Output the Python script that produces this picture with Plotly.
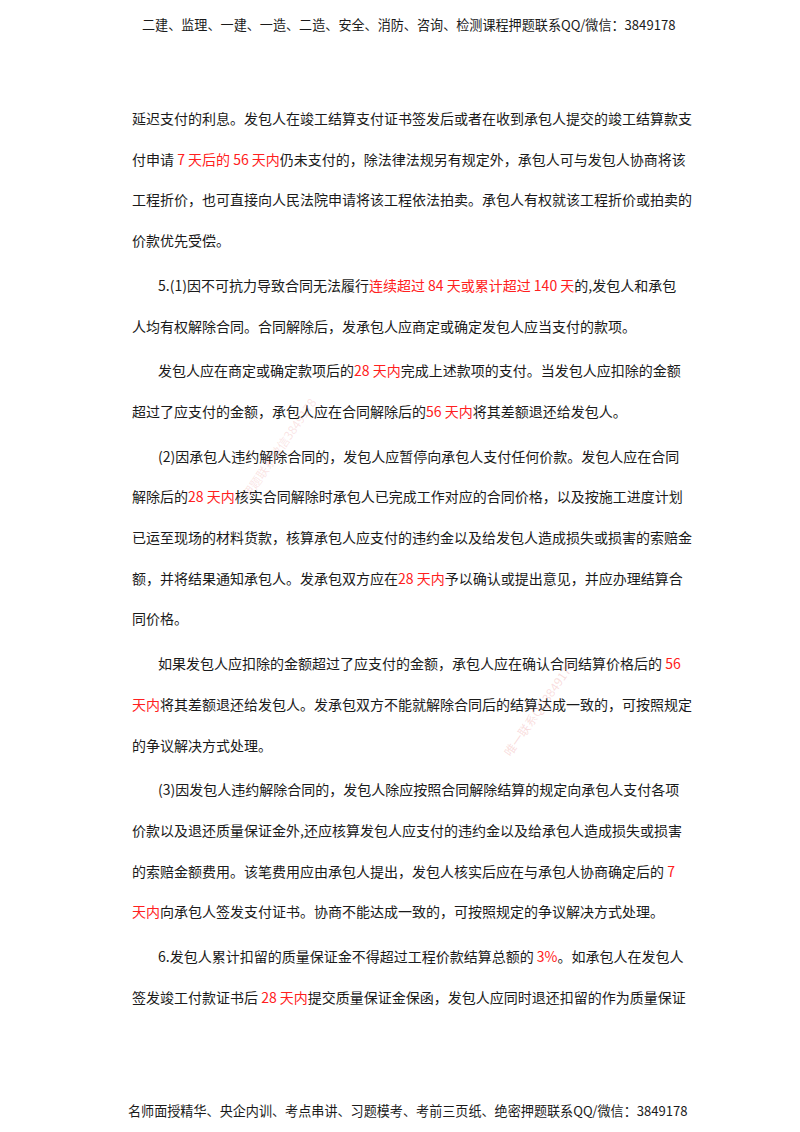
import re
import plotly.graph_objects as go

header_text = "二建、监理、一建、一造、二造、安全、消防、咨询、检测课程押题联系QQ/微信：3849178"
footer_text = "名师面授精华、央企内训、考点串讲、习题模考、考前三页纸、绝密押题联系QQ/微信：3849178"

# paragraphs: (indent?, lines); [..] marks red text
paragraphs = [
    (False, ["延迟支付的利息。发包人在竣工结算支付证书签发后或者在收到承包人提交的竣工结算款支",
             "付申请 [7 天后的 56 天内]仍未支付的，除法律法规另有规定外，承包人可与发包人协商将该",
             "工程折价，也可直接向人民法院申请将该工程依法拍卖。承包人有权就该工程折价或拍卖的",
             "价款优先受偿。"]),
    (True, ["5.(1)因不可抗力导致合同无法履行[连续超过 84 天或累计超过 140 天]的,发包人和承包",
            "人均有权解除合同。合同解除后，发承包人应商定或确定发包人应当支付的款项。"]),
    (True, ["发包人应在商定或确定款项后的[28 天内]完成上述款项的支付。当发包人应扣除的金额",
            "超过了应支付的金额，承包人应在合同解除后的[56 天内]将其差额退还给发包人。"]),
    (True, ["(2)因承包人违约解除合同的，发包人应暂停向承包人支付任何价款。发包人应在合同",
            "解除后的[28 天内]核实合同解除时承包人已完成工作对应的合同价格，以及按施工进度计划",
            "已运至现场的材料货款，核算承包人应支付的违约金以及给发包人造成损失或损害的索赔金",
            "额，并将结果通知承包人。发承包双方应在[28 天内]予以确认或提出意见，并应办理结算合",
            "同价格。"]),
    (True, ["如果发包人应扣除的金额超过了应支付的金额，承包人应在确认合同结算价格后的 [56]",
            "[天内]将其差额退还给发包人。发承包双方不能就解除合同后的结算达成一致的，可按照规定",
            "的争议解决方式处理。"]),
    (True, ["(3)因发包人违约解除合同的，发包人除应按照合同解除结算的规定向承包人支付各项",
            "价款以及退还质量保证金外,还应核算发包人应支付的违约金以及给承包人造成损失或损害",
            "的索赔金额费用。该笔费用应由承包人提出，发包人核实后应在与承包人协商确定后的 [7]",
            "[天内]向承包人签发支付证书。协商不能达成一致的，可按照规定的争议解决方式处理。"]),
    (True, ["6.发包人累计扣留的质量保证金不得超过工程价款结算总额的 [3%]。如承包人在发包人",
            "签发竣工付款证书后 [28 天内]提交质量保证金保函，发包人应同时退还扣留的作为质量保证"]),
]

W, H = 800, 1132
FONT = "Noto Sans CJK SC"
RED = "#ff2020"
TXT = "#1a1a1a"

def px(x): return x / W
def py(y): return 1 - y / H

def colorize(s):
    return re.sub(r"\[(.*?)\]", lambda m: f'<span style="color:{RED}">{m.group(1)}</span>', s)

ann = [
    dict(x=px(400), y=py(17), text=header_text, xanchor="center", yanchor="middle",
         font=dict(size=13.1, color=TXT, family=FONT)),
    dict(x=px(400), y=py(1102), text=footer_text, xanchor="center", yanchor="middle",
         font=dict(size=13.1, color=TXT, family=FONT)),
]
y = 110
first = True
for indent, lines in paragraphs:
    if not first:
        y += 4
    first = False
    for i, ln in enumerate(lines):
        x = 148 if (indent and i == 0) else 122
        ann.append(dict(x=px(x), y=py(y), text=colorize(ln), xanchor="left", yanchor="middle",
                        font=dict(size=14, color=TXT, family=FONT)))
        y += 40.7

ann.append(dict(x=px(530), y=py(700), text="唯一联系QQ3849178", textangle=-55, showarrow=False,
                font=dict(size=12, color="rgba(230,120,120,0.25)", family=FONT)))
ann.append(dict(x=px(270), y=py(440), text="押题联系微信3849178", textangle=-55, showarrow=False,
                font=dict(size=12, color="rgba(230,120,120,0.2)", family=FONT)))
for a in ann:
    a.setdefault("showarrow", False)
    a["xref"] = "paper"; a["yref"] = "paper"

fig = go.Figure()
fig.update_layout(width=W, height=H, margin=dict(l=0, r=0, t=0, b=0),
                  paper_bgcolor="white", plot_bgcolor="white",
                  xaxis=dict(visible=False), yaxis=dict(visible=False),
                  annotations=ann, showlegend=False)
fig.write_html("out.html")
